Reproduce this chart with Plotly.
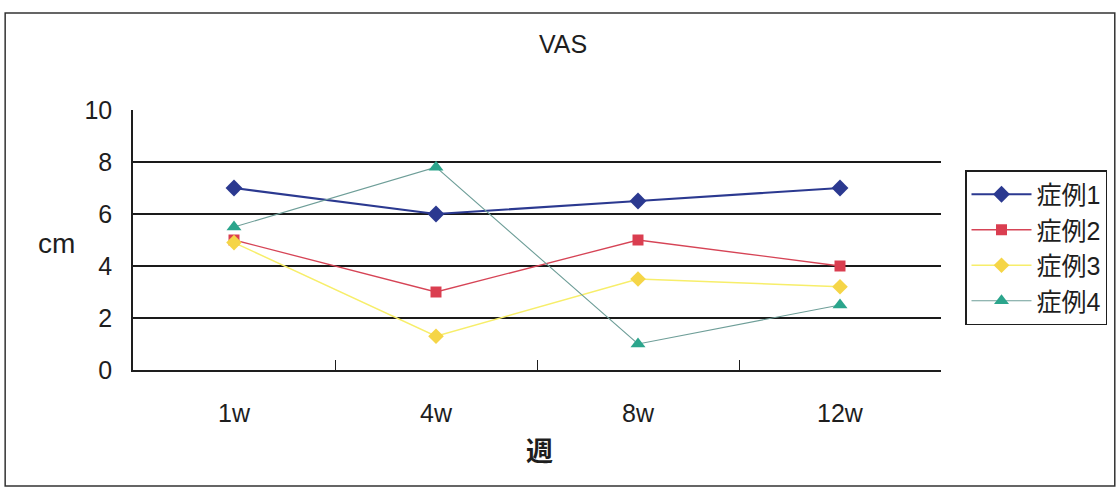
import plotly.graph_objects as go

# VAS scores (cm) per case over weeks
weeks = ["1w", "4w", "8w", "12w"]
case1 = [7.0, 6.0, 6.5, 7.0]
case2 = [5.0, 3.0, 5.0, 4.0]
case3 = [4.9, 1.3, 3.5, 3.2]
case4 = [5.5, 7.8, 1.0, 2.5]
names = ["症例1", "症例2", "症例3", "症例4"]
y_ticks = [0, 2, 4, 6, 8, 10]

FONT = "Liberation Sans, Arial, Noto Sans CJK JP, sans-serif"
INK = "#1e1e1e"

styles = [
    dict(line=dict(color="#2B3990", width=2.2),
         marker=dict(symbol="diamond", size=13, color="#2B3990")),
    dict(line=dict(color="#D64456", width=1.3),
         marker=dict(symbol="square", size=11, color="#DA3E50")),
    dict(line=dict(color="#F7EE6A", width=1.5),
         marker=dict(symbol="diamond", size=12, color="#F5D547")),
    dict(line=dict(color="#6E9E98", width=1.1),
         marker=dict(symbol="triangle-up", size=13, color="#2BA58C")),
]

fig = go.Figure()
for name, vals, st in zip(names, [case1, case2, case3, case4], styles):
    fig.add_trace(go.Scatter(
        x=weeks, y=vals, name=name, mode="lines+markers",
        legendgroup=name, **st,
    ))

# plot area in pixels: x 133..942, y 110..370
L, R, T, B = 133, 942, 110, 370
W, H = 1118, 489
pw, ph = R - L, B - T

def px_x(p):
    return (p - L) / pw

def px_y(p):
    return (B - p) / ph

fig.update_layout(
    width=W, height=H,
    margin=dict(l=L, r=W - R, t=T, b=H - B),
    paper_bgcolor="white", plot_bgcolor="white",
    font=dict(family=FONT, color=INK),
    showlegend=True,
    title=dict(text="VAS", x=563 / W, xref="container", xanchor="center",
               y=1 - 44 / H, yanchor="middle",
               font=dict(size=25, family=FONT, color=INK)),
    legend=dict(
        x=px_x(965), y=px_y(170), xanchor="left", yanchor="top",
        bordercolor=INK, borderwidth=1.5, bgcolor="white",
        font=dict(size=25, family=FONT, color=INK),
        itemwidth=60, tracegroupgap=0,
    ),
    xaxis=dict(
        type="category", range=[-0.5, 3.5],
        showline=True, linecolor=INK, linewidth=1.5,
        showgrid=False, ticks="inside", tickson="boundaries",
        ticklen=10, tickcolor=INK, tickwidth=1,
        tickfont=dict(size=25, family=FONT, color=INK),
        ticklabelstandoff=20, zeroline=False,
    ),
    yaxis=dict(
        range=[0, 10], tickvals=y_ticks,
        showline=True, linecolor=INK, linewidth=1.5,
        showgrid=True, gridcolor="#1a1a1a", gridwidth=1.5,
        ticks="inside", ticklen=6, tickcolor=INK,
        tickfont=dict(size=25, family=FONT, color=INK),
        ticklabelstandoff=14, zeroline=False,
    ),
    annotations=[
        dict(text="cm", xref="paper", yref="paper", x=px_x(56), y=px_y(243),
             showarrow=False, xanchor="center", yanchor="middle",
             font=dict(size=28, family=FONT, color=INK)),
        dict(text="<b>週</b>", xref="paper", yref="paper", x=px_x(540), y=px_y(452),
             showarrow=False, xanchor="center", yanchor="middle",
             font=dict(size=27, family=FONT, color=INK)),
    ],
    shapes=[
        dict(type="rect", xref="paper", yref="paper",
             x0=px_x(5), x1=px_x(1116), y0=px_y(486), y1=px_y(13),
             line=dict(color="#333", width=1.5), layer="below"),
    ],
)

fig.write_html("out.html")
